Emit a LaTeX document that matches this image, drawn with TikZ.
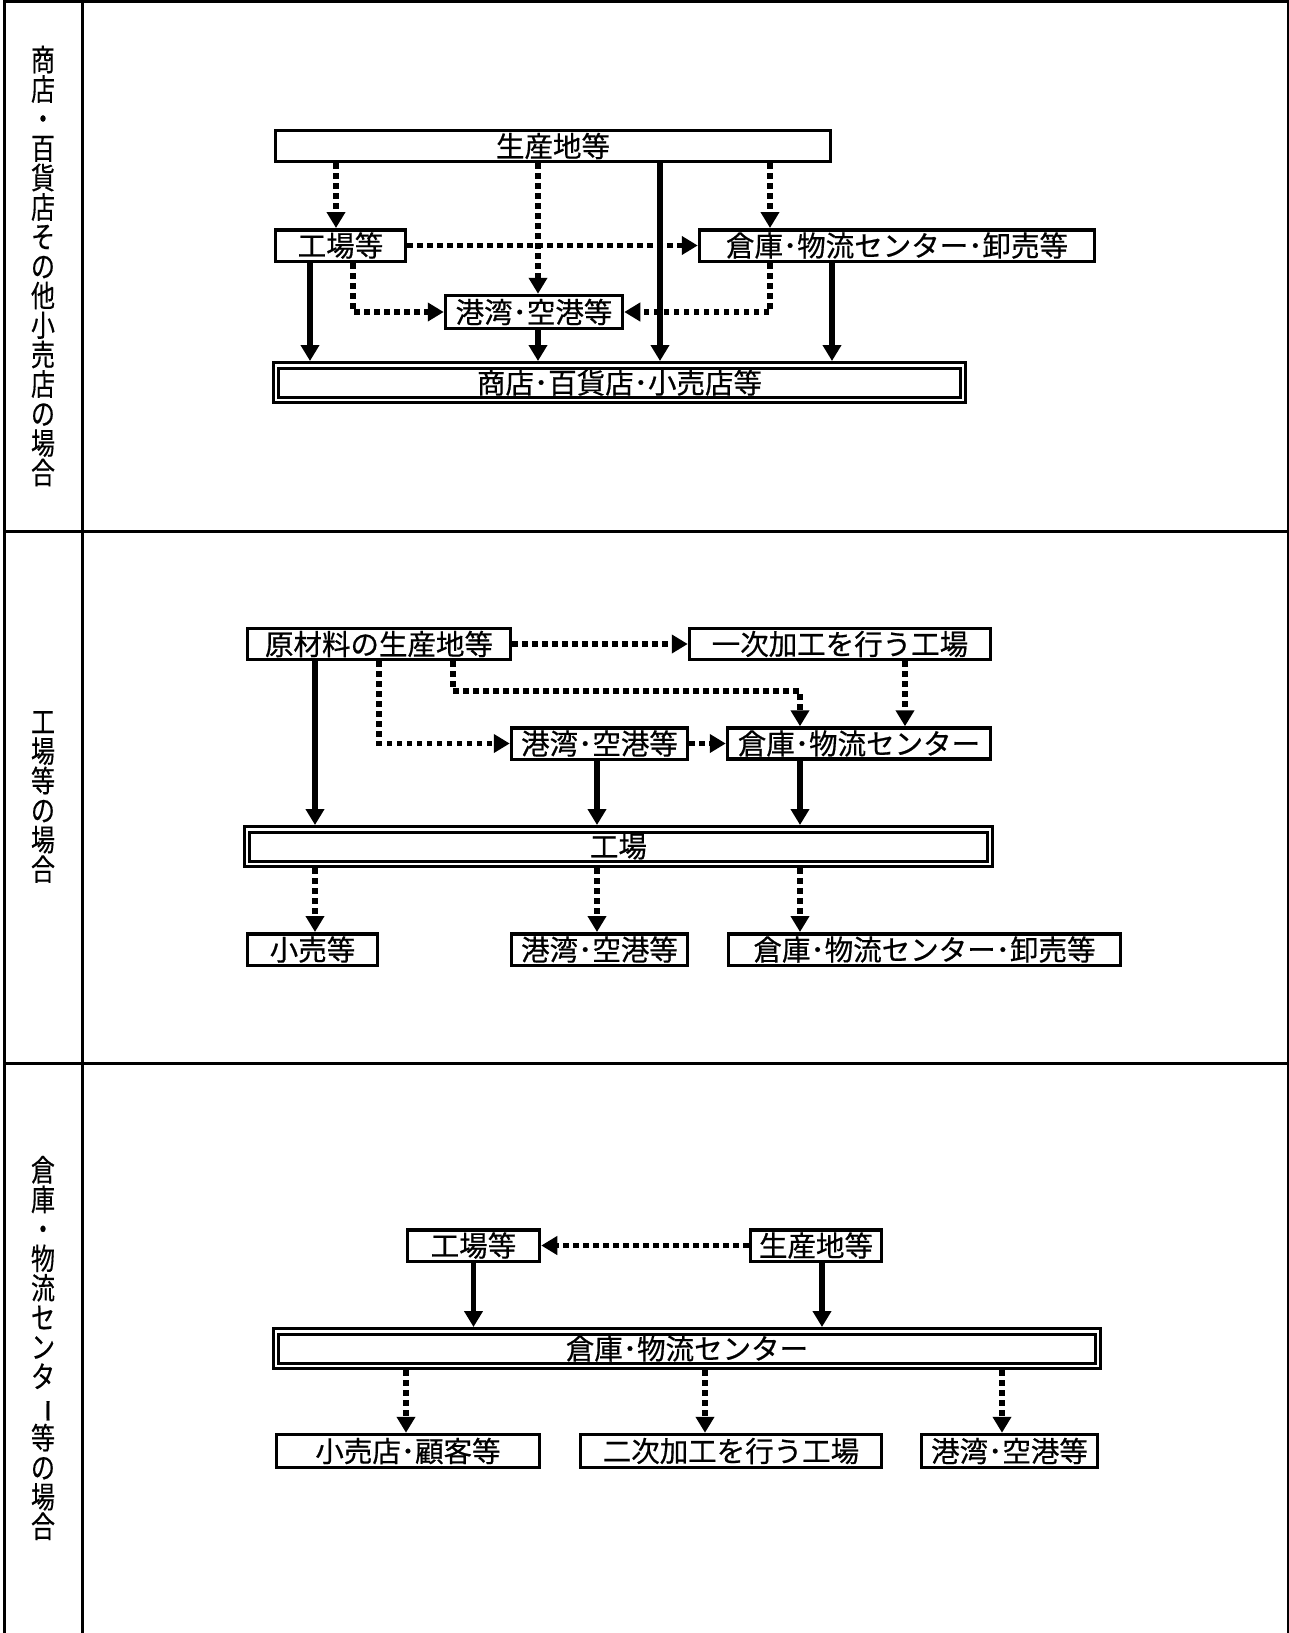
\documentclass[tikz,border=0pt]{standalone}
\usepackage{fontspec}
\usepackage{graphicx}
\setmainfont{Noto Sans CJK JP}[FakeBold=0.6]
\newfontfamily\tatefont[FakeStretch=0.8,FakeBold=0.4]{Noto Sans CJK JP}
\usetikzlibrary{arrows.meta}
\tikzset{
	kbox/.style={draw, line width=3.5pt, inner sep=0pt, minimum height=31.5},
	dbox/.style={draw, line width=3pt, double, double distance=2.5pt, inner sep=0pt, outer sep=4.25pt, minimum height=34.5},
	solidarr/.style={line width=5.5pt, -{Triangle[length=16pt,width=18pt]}},
	dotarr/.style={line width=5.5pt, dash pattern=on 5.5pt off 4.5pt, -{Triangle[length=16pt,width=18pt]}},
	tate/.style={align=center, inner sep=0pt, font=\tatefont\fontsize{30}{29.5}\selectfont},
}

\begin{document}
\begin{tikzpicture}[x=1pt, y=-1pt, font=\fontsize{28.5}{30}\selectfont]
		\useasboundingbox (0,0) rectangle (1289,1633);
		%%%%% FRAME %%%%%
		\draw[line width=3pt] (4,0) -- (4,1633);
		\draw[line width=3pt] (82,0) -- (82,1633);
		\draw[line width=3pt] (1288,0) -- (1288,1633);
		\draw[line width=3pt] (4,1) -- (1288,1);
		\draw[line width=3pt] (4,531) -- (1288,531);
		\draw[line width=3pt] (4,1063) -- (1288,1063);
		
		\node[tate] (lbl1) at (43,266) {商\\店\\・\\百\\貨\\店\\そ\\の\\他\\小\\売\\店\\の\\場\\合};
		\node[tate] (lbl2) at (43,797) {工\\場\\等\\の\\場\\合};
		\node[tate] (lbl3) at (43,1348) {倉\\庫\\・\\物\\流\\セ\\ン\\タ\\\rotatebox[origin=c]{-90}{ー}\\等\\の\\場\\合};
		
		%%%%% SHOTEN %%%%%
		\node[kbox, minimum width=555, minimum height=31] (sanchi1) at (553,146) {生産地等};
		\node[kbox, minimum width=130] (kojo1) at (340.5,245.5) {工場等};
		\node[kbox, minimum width=395] (soko1) at (897,245.5) {倉庫･物流センター･卸売等};
		\node[kbox, minimum width=177, minimum height=33] (kowan1) at (534,312) {港湾･空港等};
		\node[dbox, minimum width=687] (shoten1) at (619.5,382.5) {商店･百貨店･小売店等};
		
		\coordinate (p1) at (336,0);
		\coordinate (p2) at (538,0);
		\coordinate (p3) at (660,0);
		\coordinate (p4) at (770,0);
		\coordinate (p5) at (310,0);
		\coordinate (p6) at (353,0);
		\coordinate (p7) at (832,0);
		
		\draw[dotarr] (sanchi1.south -| p1) -- (kojo1.north -| p1);
		\draw[dotarr] (sanchi1.south -| p2) -- (kowan1.north -| p2);
		\draw[dotarr] (sanchi1.south -| p4) -- (soko1.north -| p4);
		\draw[dotarr] (kojo1.east) -- (soko1.west);
		\draw[dotarr] (kojo1.south -| p6) |- (kowan1.west);
		\draw[dotarr] (soko1.south -| p4) |- (kowan1.east);
		\draw[solidarr] (sanchi1.south -| p3) -- (shoten1.north -| p3);
		\draw[solidarr] (kojo1.south -| p5) -- (shoten1.north -| p5);
		\draw[solidarr] (kowan1.south -| p2) -- (shoten1.north -| p2);
		\draw[solidarr] (soko1.south -| p7) -- (shoten1.north -| p7);
		
		%%%%% KOJO %%%%%
		\node[kbox, minimum width=263, minimum height=31] (genzai2) at (379,644) {原材料の生産地等};
		\node[kbox, minimum width=301, minimum height=31] (ichiji2) at (840,644) {一次加工を行う工場};
		\node[kbox, minimum width=176] (kowan2) at (599.5,743.5) {港湾･空港等};
		\node[kbox, minimum width=263, minimum height=31] (soko2) at (859,743.5) {倉庫･物流センター};
		\node[dbox, minimum width=743] (kojo2) at (618.5,846.5) {工場};
		\node[kbox, minimum width=130] (kouri2) at (312.5,949.5) {小売等};
		\node[kbox, minimum width=176] (kowan2b) at (599.5,949.5) {港湾･空港等};
		\node[kbox, minimum width=392] (oroshi2) at (924.5,949.5) {倉庫･物流センター･卸売等};
		
		\coordinate (q1) at (315,0);
		\coordinate (q2) at (453,0);
		\coordinate (q3) at (800,691);
		\coordinate (q4) at (905,0);
		\coordinate (q5) at (597,0);
		
		\draw[dotarr] (genzai2.east) -- (ichiji2.west);
		\draw[dotarr] (genzai2.south) |- (kowan2.west);
		\draw[dotarr] (genzai2.south -| q2) |- (q3) -- (soko2.north -| q3);
		\draw[dotarr] (ichiji2.south -| q4) -- (soko2.north -| q4);
		\draw[dotarr] (kowan2.east) -- (soko2.west);
		\draw[solidarr] (genzai2.south -| q1) -- (kojo2.north -| q1);
		\draw[solidarr] (kowan2.south -| q5) -- (kojo2.north -| q5);
		\draw[solidarr] (soko2.south -| q3) -- (kojo2.north -| q3);
		\draw[dotarr] (kojo2.south -| q1) -- (kouri2.north -| q1);
		\draw[dotarr] (kojo2.south -| q5) -- (kowan2b.north -| q5);
		\draw[dotarr] (kojo2.south -| q3) -- (oroshi2.north -| q3);
		
		%%%%% SOKO %%%%%
		\node[kbox, minimum width=132] (kojo3) at (473.5,1245.5) {工場等};
		\node[kbox, minimum width=131] (sanchi3) at (816,1245.5) {生産地等};
		\node[dbox, minimum width=822] (soko3) at (687,1348.5) {倉庫･物流センター};
		\node[kbox, minimum width=263, minimum height=33] (kouri3) at (408,1451) {小売店･顧客等};
		\node[kbox, minimum width=301, minimum height=33] (niji3) at (731,1451) {二次加工を行う工場};
		\node[kbox, minimum width=176, minimum height=33] (kowan3) at (1009.5,1451) {港湾･空港等};
		
		\coordinate (r1) at (822,0);
		\coordinate (r2) at (406,0);
		\coordinate (r3) at (705,0);
		\coordinate (r4) at (1002,0);
		
		\draw[dotarr] (sanchi3.west) -- (kojo3.east);
		\draw[solidarr] (kojo3.south) -- (soko3.north -| kojo3.south);
		\draw[solidarr] (sanchi3.south -| r1) -- (soko3.north -| r1);
		\draw[dotarr] (soko3.south -| r2) -- (kouri3.north -| r2);
		\draw[dotarr] (soko3.south -| r3) -- (niji3.north -| r3);
		\draw[dotarr] (soko3.south -| r4) -- (kowan3.north -| r4);
		
\end{tikzpicture}
\end{document}
